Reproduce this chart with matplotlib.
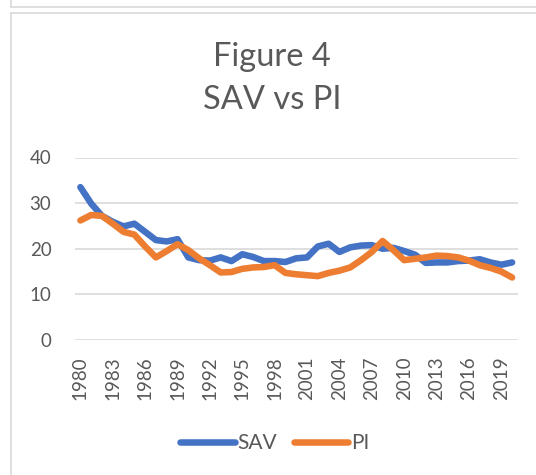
import numpy as np
import matplotlib
matplotlib.use('Agg')
import matplotlib.pyplot as plt
from matplotlib.lines import Line2D

years = list(range(1980, 2021))
sav = [33.5, 29.9, 27.2, 25.9, 24.9, 25.5, 23.7, 21.9, 21.6, 22.1,
       18.1, 17.5, 17.4, 18.1, 17.3, 18.8, 18.2, 17.3, 17.3, 17.1,
       17.9, 18.1, 20.5, 21.1, 19.3, 20.3, 20.7, 20.8, 20.0, 20.2,
       19.5, 18.7, 16.9, 17.0, 17.0, 17.3, 17.4, 17.7, 17.0, 16.5,
       17.0]
pi = [26.2, 27.4, 27.2, 25.5, 23.7, 23.1, 20.5, 18.1, 19.5, 21.0,
      19.7, 17.9, 16.4, 14.8, 14.9, 15.6, 15.9, 16.0, 16.4, 14.7,
      14.4, 14.2, 14.0, 14.7, 15.2, 15.9, 17.5, 19.3, 21.7, 19.7,
      17.5, 17.8, 18.1, 18.5, 18.4, 18.1, 17.4, 16.4, 15.8, 15.0,
      13.7]
tick_years = list(range(1980, 2020, 3))
y_ticks = [0, 10, 20, 30, 40]

plt.rcParams['font.family'] = ['Lato', 'DejaVu Sans']
W, H = 536, 475
fig = plt.figure(figsize=(W / 100, H / 100), dpi=100)

# light grey frame lines like the spreadsheet cells
border = '#d9d9d9'
fig.add_artist(Line2D([11 / W, 11 / W], [1, 1 - 7 / H], color=border, lw=1.2))
fig.add_artist(Line2D([11 / W, 1], [1 - 7 / H, 1 - 7 / H], color=border, lw=1.2))
fig.add_artist(Line2D([11 / W, 11 / W], [0, 1 - 13 / H], color=border, lw=1.2))
fig.add_artist(Line2D([11 / W, 1], [1 - 13 / H, 1 - 13 / H], color=border, lw=1.2))

ax = fig.add_axes([75 / W, 1 - 340 / H, (517.5 - 75) / W, (340 - 157.5) / H])
ax.plot(years, sav, color='#4472C4', lw=4.7, solid_capstyle='round',
        solid_joinstyle='round', label='SAV')
ax.plot(years, pi, color='#ED7D31', lw=4.7, solid_capstyle='round',
        solid_joinstyle='round', label='PI')

ax.set_xlim(1979.5, 2020.5)
ax.set_ylim(0, 40)
ax.set_yticks(y_ticks)
ax.set_xticks(tick_years)
ax.set_xticklabels([str(y) for y in tick_years], rotation=90)
ax.tick_params(axis='both', length=0, labelsize=13.5, labelcolor='#595959')
ax.tick_params(axis='x', pad=12)
ax.tick_params(axis='y', pad=17)
ax.grid(axis='y', color='#d9d9d9', lw=1.2)
ax.set_axisbelow(True)
for s in ax.spines.values():
    s.set_visible(False)

fig.text(272 / W, 1 - 57 / H, 'Figure 4', ha='center', va='center',
         fontsize=23.5, color='#595959')
fig.text(272 / W, 1 - 100 / H, 'SAV vs PI', ha='center', va='center',
         fontsize=23.5, color='#595959')

fig.legend(loc='center', bbox_to_anchor=(275 / W, 1 - 443 / H), ncol=2,
           frameon=False, fontsize=15, labelcolor='#595959',
           handlelength=2.6, handletextpad=0.15, columnspacing=0.8)

fig.savefig('out.png', dpi=100)
